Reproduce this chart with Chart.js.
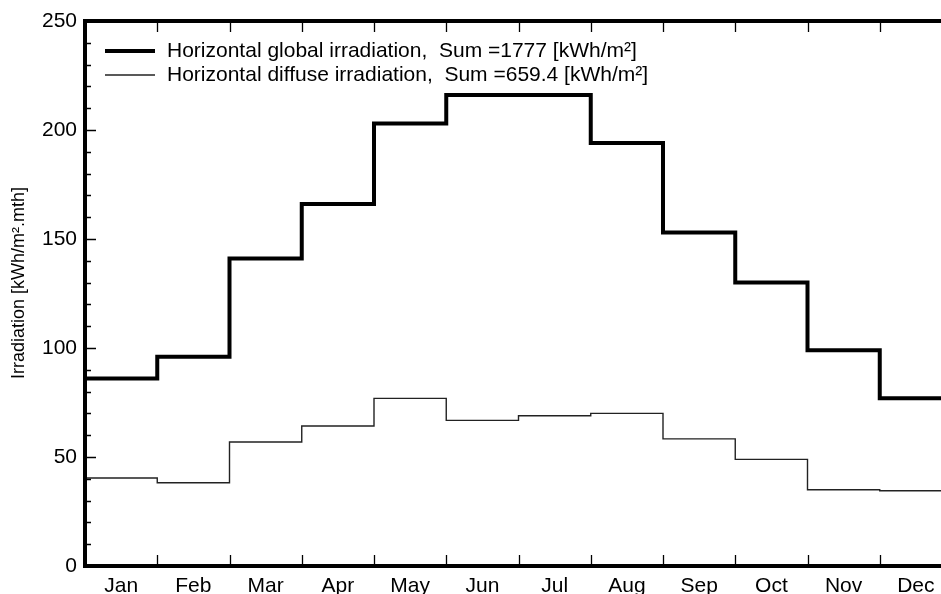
<!DOCTYPE html>
<html>
<head>
<meta charset="utf-8">
<script src="https://cdn.jsdelivr.net/npm/chart.js@4.4.1/dist/chart.umd.min.js"></script>
<style>
  html, body { margin: 0; padding: 0; overflow: hidden; background: #fff; }
  #wrap { width: 960px; height: 594px; }
</style>
</head>
<body>
<div id="wrap"><canvas id="myChart"></canvas></div>
<script>
// data (kWh/m².mth)
var months = ['Jan', 'Feb', 'Mar', 'Apr', 'May', 'Jun', 'Jul', 'Aug', 'Sep', 'Oct', 'Nov', 'Dec'];
var globalIrr = [86, 96, 141, 166, 203, 216, 216, 194, 153, 130, 99, 77];
var diffuseIrr = [40.4, 38.2, 56.9, 64.2, 76.9, 66.8, 68.9, 70.0, 58.3, 48.9, 35.0, 34.5];
var yTicks = [0, 50, 100, 150, 200, 250];
var legendLabels = [
    'Horizontal global irradiation,  Sum =1777 [kWh/m\u00B2]',
    'Horizontal diffuse irradiation,  Sum =659.4 [kWh/m\u00B2]'
];

// step points: month i runs from x=i to x=i+1
function toSteps(values) {
    var pts = values.map(function(v, i) { return { x: i, y: v }; });
    pts.push({ x: values.length, y: values[values.length - 1] });
    return pts;
}

var FONT = 'Liberation Sans, Arial, sans-serif';

// frame, inward ticks, legend and y title
var framePlugin = {
    id: 'frame',
    afterDatasetsDraw: function(chart) {
        var ctx = chart.ctx;
        var a = chart.chartArea;
        var xs = chart.scales.x, ys = chart.scales.y;
        ctx.save();
        ctx.strokeStyle = '#000';

        // y ticks, left and right
        ctx.lineWidth = 1.3;
        for (var v = 0; v <= 250; v += 10) {
            var py = Math.round(ys.getPixelForValue(v)) + 0.5;
            var len = (v % 50 === 0) ? 11 : 6;
            ctx.beginPath();
            ctx.moveTo(a.left, py); ctx.lineTo(a.left + len, py);
            ctx.moveTo(a.right, py); ctx.lineTo(a.right - len, py);
            ctx.stroke();
        }
        // x ticks, top and bottom
        for (var i = 1; i < months.length; i++) {
            var px = Math.round(xs.getPixelForValue(i)) + 0.5;
            ctx.beginPath();
            ctx.moveTo(px, a.top); ctx.lineTo(px, a.top + 11);
            ctx.moveTo(px, a.bottom); ctx.lineTo(px, a.bottom - 11);
            ctx.stroke();
        }
        // thick frame
        ctx.lineWidth = 4;
        ctx.strokeRect(a.left, a.top, a.right - a.left, a.bottom - a.top);

        // legend
        ctx.font = '21px ' + FONT;
        ctx.textBaseline = 'middle';
        ctx.fillStyle = '#000';
        chart.data.datasets.forEach(function(ds, k) {
            var ly = a.top + 30 + k * 24;
            ctx.lineWidth = ds.borderWidth;
            ctx.strokeStyle = ds.borderColor;
            ctx.beginPath();
            ctx.moveTo(a.left + 20, ly); ctx.lineTo(a.left + 70, ly);
            ctx.stroke();
            ctx.fillText(legendLabels[k], a.left + 82, ly);
        });

        // y axis title
        ctx.translate(19, 283);
        ctx.rotate(-Math.PI / 2);
        ctx.font = '18px ' + FONT;
        ctx.textAlign = 'center';
        ctx.fillText('Irradiation [kWh/m\u00B2.mth]', 0, 0);
        ctx.restore();
    }
};

var ctx = document.getElementById('myChart').getContext('2d');
var chart = new Chart(ctx, {
    type: 'line',
    data: {
        datasets: [{
            label: legendLabels[0],
            data: toSteps(globalIrr),
            borderColor: '#000',
            borderWidth: 4,
            stepped: true,
            pointRadius: 0,
            fill: false
        }, {
            label: legendLabels[1],
            data: toSteps(diffuseIrr),
            borderColor: '#222',
            borderWidth: 1.4,
            stepped: true,
            pointRadius: 0,
            fill: false
        }]
    },
    options: {
        responsive: true,
        maintainAspectRatio: false,
        animation: false,
        layout: { padding: { left: 0, top: 21, right: 8, bottom: 0 } },
        plugins: {
            legend: { display: false },
            tooltip: { enabled: false }
        },
        scales: {
            x: {
                type: 'linear',
                min: 0,
                max: 12,
                grid: { display: false, drawTicks: false },
                border: { display: false },
                afterBuildTicks: function(scale) {
                    scale.ticks = months.map(function(m, i) { return { value: i + 0.5 }; });
                },
                afterFit: function(scale) { scale.height = 28; },
                ticks: {
                    autoSkip: false,
                    maxRotation: 0,
                    padding: 8,
                    color: '#000',
                    font: { family: FONT, size: 21 },
                    callback: function(value) { return months[Math.floor(value)]; }
                }
            },
            y: {
                min: 0,
                max: 250,
                grid: { display: false, drawTicks: false },
                border: { display: false },
                afterBuildTicks: function(scale) {
                    scale.ticks = yTicks.map(function(v) { return { value: v }; });
                },
                afterFit: function(scale) { scale.width = 85; },
                ticks: {
                    padding: 8,
                    color: '#000',
                    font: { family: FONT, size: 21 }
                }
            }
        }
    },
    plugins: [framePlugin]
});
</script>
</body>
</html>
